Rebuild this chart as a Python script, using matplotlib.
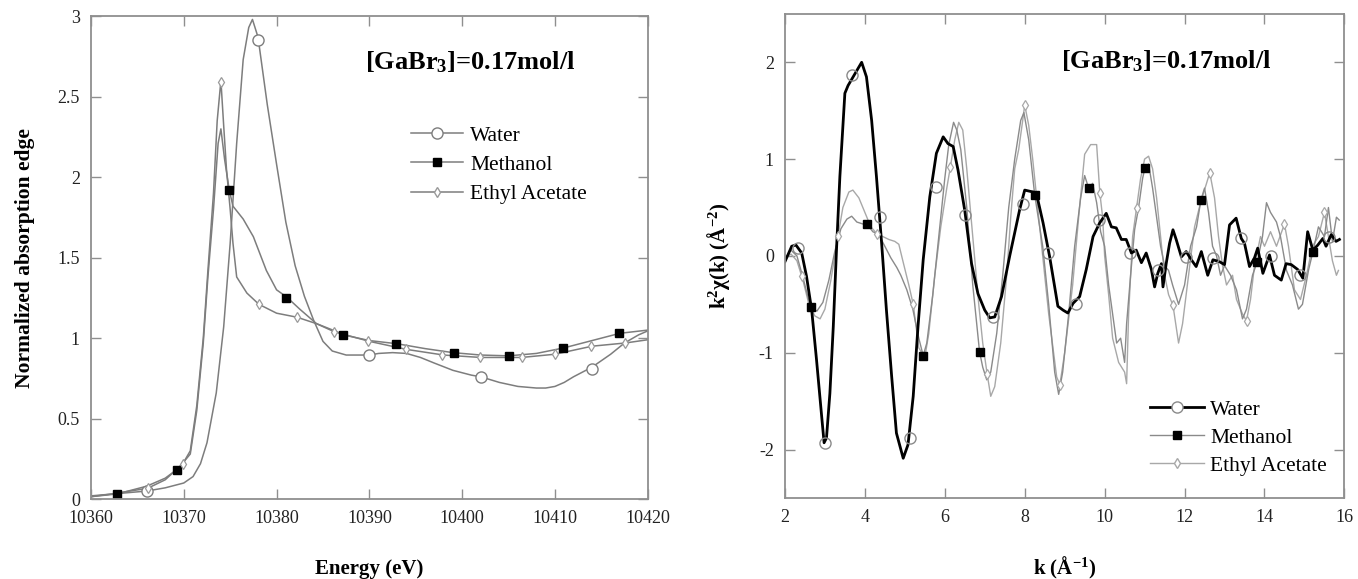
import matplotlib
matplotlib.use("Agg")
from matplotlib import pyplot as plt
from matplotlib.lines import Line2D
from matplotlib.ticker import FuncFormatter

plt.rcParams['font.family'] = ['Liberation Serif', 'DejaVu Serif']
plt.rcParams['axes.unicode_minus'] = False
plt.rcParams['mathtext.fontset'] = 'custom'
plt.rcParams['mathtext.rm'] = 'Liberation Serif:bold'
plt.rcParams['mathtext.bf'] = 'Liberation Serif:bold'
plt.rcParams['mathtext.it'] = 'Liberation Serif:bold'

# ---- XANES (left) ----
water_e = [10360, 10363, 10366, 10368, 10370, 10371, 10371.8, 10372.5, 10373.5, 10374.3,
           10375, 10375.7, 10376.4, 10377, 10377.4, 10378, 10379, 10380, 10381, 10382,
           10383, 10384, 10385, 10386, 10387.5, 10389, 10390, 10391, 10392.5, 10394,
           10395.5, 10397, 10399, 10401, 10402, 10404, 10406, 10408, 10409, 10410,
           10411, 10412, 10414, 10416, 10417.5, 10419, 10420]
water_mu = [0.02, 0.035, 0.05, 0.07, 0.10, 0.14, 0.22, 0.35, 0.66, 1.07,
            1.59, 2.21, 2.73, 2.93, 2.98, 2.87, 2.45, 2.08, 1.72, 1.45,
            1.26, 1.11, 0.98, 0.92, 0.895, 0.895, 0.895, 0.905, 0.91, 0.905,
            0.88, 0.845, 0.80, 0.77, 0.76, 0.725, 0.70, 0.69, 0.69, 0.70,
            0.725, 0.76, 0.82, 0.90, 0.97, 1.02, 1.045]
water_mk_e = [10366, 10378, 10390, 10402, 10414]
water_mk_mu = [0.05, 2.85, 0.895, 0.76, 0.81]

meth_e = [10360, 10362.8, 10366, 10368, 10369.4, 10370.7, 10371.4, 10372.1, 10372.6, 10373.2,
          10373.7, 10374.0, 10374.4, 10374.9, 10375.3, 10376.4, 10377.5, 10378.9, 10380, 10381.1,
          10382.5, 10384.3, 10386.5, 10387.2, 10390, 10393, 10396, 10399, 10402, 10405,
          10408, 10411, 10414, 10417, 10420]
meth_mu = [0.015, 0.032, 0.08, 0.13, 0.19, 0.28, 0.55, 0.97, 1.38, 1.80,
           2.21, 2.30, 2.11, 1.92, 1.82, 1.74, 1.63, 1.42, 1.30, 1.255,
           1.18, 1.09, 1.04, 1.02, 0.985, 0.965, 0.935, 0.91, 0.895, 0.89,
           0.905, 0.94, 0.985, 1.03, 1.05]
meth_mk_e = [10362.8, 10369.3, 10374.9, 10381.0, 10387.2, 10392.9, 10399.1, 10405.1, 10410.9, 10416.9]
meth_mk_mu = [0.032, 0.18, 1.92, 1.25, 1.02, 0.965, 0.91, 0.89, 0.94, 1.03]

ethyl_e = [10360, 10362, 10366.1, 10368, 10369.9, 10370.7, 10371.4, 10372.1, 10372.6, 10373.2,
           10373.6, 10374.0, 10374.3, 10374.6, 10375.0, 10375.3, 10375.7, 10376.8, 10378.1, 10380,
           10382.2, 10384.3, 10386.2, 10390, 10394, 10398, 10402, 10406.4, 10410, 10414,
           10417.6, 10420]
ethyl_mu = [0.015, 0.03, 0.067, 0.12, 0.22, 0.30, 0.58, 1.0, 1.42, 1.9,
            2.35, 2.60, 2.32, 2.05, 1.80, 1.59, 1.38, 1.28, 1.21, 1.155,
            1.13, 1.09, 1.04, 0.98, 0.93, 0.895, 0.88, 0.88, 0.90, 0.95,
            0.97, 0.99]
ethyl_mk_e = [10366.1, 10369.9, 10374.0, 10378.1, 10382.2, 10386.2, 10389.8, 10393.9,
              10397.8, 10401.9, 10406.4, 10410, 10413.9, 10417.6]
ethyl_mk_mu = [0.067, 0.22, 2.59, 1.21, 1.13, 1.04, 0.98, 0.93, 0.895, 0.88, 0.88, 0.90, 0.95, 0.97]

# ---- EXAFS (right) ----
w_k = [2.0, 2.17, 2.275, 2.42, 2.54, 2.67, 2.79, 2.92, 2.98, 3.04, 3.125, 3.21, 3.29, 3.375,
       3.5, 3.58, 3.75, 3.92, 4.04, 4.17, 4.29, 4.42, 4.54, 4.67, 4.79, 4.96, 5.08, 5.21,
       5.33, 5.46, 5.625, 5.79, 5.96, 6.08, 6.21, 6.33, 6.5, 6.67, 6.83, 7.0, 7.125, 7.25,
       7.42, 7.625, 7.875, 8.0, 8.21, 8.29, 8.46, 8.625, 8.75, 8.83, 8.96, 9.08, 9.21,
       9.375, 9.54, 9.71, 9.875, 10.04, 10.17, 10.29, 10.42, 10.54, 10.67, 10.79, 10.92,
       11.04, 11.17, 11.25, 11.33, 11.42, 11.46, 11.54, 11.625, 11.71, 11.79, 11.92, 12.04,
       12.17, 12.29, 12.42, 12.58, 12.71, 12.875, 13.0, 13.125, 13.29, 13.42, 13.5, 13.625,
       13.75, 13.83, 13.96, 14.125, 14.25, 14.42, 14.54, 14.67, 14.83, 14.96, 15.08, 15.21,
       15.33, 15.46, 15.54, 15.67, 15.79, 15.875]
w_chi = [-0.06, 0.10, 0.113, 0.03, -0.21, -0.56, -1.07, -1.66, -1.93, -1.88, -1.42, -0.73, 0.06, 0.82,
         1.68, 1.76, 1.88, 2.0, 1.85, 1.40, 0.82, 0.13, -0.56, -1.24, -1.83, -2.09, -1.95, -1.45,
         -0.73, -0.04, 0.61, 1.06, 1.23, 1.16, 1.13, 0.89, 0.47, -0.08, -0.39, -0.56, -0.64, -0.63,
         -0.42, 0.0, 0.48, 0.68, 0.66, 0.65, 0.34, -0.01, -0.32, -0.52, -0.56, -0.59, -0.49,
         -0.42, -0.14, 0.20, 0.34, 0.44, 0.30, 0.29, 0.17, 0.17, 0.03, 0.06, -0.07,
         0.03, -0.14, -0.32, -0.18, -0.08, -0.32, -0.08, 0.13, 0.27, 0.17, -0.01, 0.045,
         -0.04, -0.11, 0.045, -0.20, -0.04, -0.06, -0.09, 0.32, 0.39, 0.18, 0.13, -0.11,
         -0.02, 0.08, -0.18, 0.01, -0.20, -0.25, -0.08, -0.09, -0.14, -0.23, 0.25, 0.06,
         0.11, 0.18, 0.10, 0.22, 0.15, 0.17]
w_mk_k = [2.33, 3.0, 3.67, 4.37, 5.12, 5.79, 6.5, 7.21, 7.96, 8.58, 9.28, 9.87, 10.63,
          11.33, 12.03, 12.71, 13.42, 14.17, 14.9, 15.62]
w_mk_chi = [0.08, -1.93, 1.87, 0.40, -1.88, 0.71, 0.42, -0.63, 0.54, 0.03, -0.5, 0.37, 0.03,
            -0.15, -0.01, -0.02, 0.18, 0.0, -0.2, 0.2]

m_k = [2.0, 2.15, 2.3, 2.45, 2.64, 2.8, 2.95, 3.1, 3.25, 3.4, 3.55, 3.67, 3.8, 3.95, 4.05,
       4.2, 4.35, 4.5, 4.65, 4.8, 4.9, 5.05, 5.2, 5.35, 5.46, 5.55, 5.7, 5.85, 6.0, 6.1,
       6.22, 6.3, 6.4, 6.55, 6.7, 6.87, 6.95, 7.05, 7.15, 7.3, 7.45, 7.6, 7.75, 7.9, 7.98,
       8.1, 8.25, 8.45, 8.6, 8.75, 8.85, 8.95, 9.1, 9.25, 9.4, 9.5, 9.6, 9.7, 9.8, 9.9,
       10.0, 10.1, 10.2, 10.3, 10.4, 10.5, 10.55, 10.65, 10.75, 10.85, 10.95, 11.01, 11.1,
       11.2, 11.3, 11.4, 11.5, 11.6, 11.7, 11.85, 12.0, 12.15, 12.3, 12.41, 12.5, 12.6,
       12.7, 12.8, 12.9, 13.0, 13.15, 13.3, 13.45, 13.55, 13.7, 13.82, 13.95, 14.05, 14.15,
       14.3, 14.4, 14.55, 14.7, 14.85, 14.95, 15.1, 15.21, 15.35, 15.5, 15.6, 15.7, 15.8,
       15.87]
m_chi = [-0.03, 0.06, 0.0, -0.22, -0.53, -0.57, -0.48, -0.25, 0.05, 0.28, 0.38, 0.41, 0.35, 0.33, 0.33,
         0.25, 0.22, 0.10, -0.02, -0.12, -0.2, -0.35, -0.55, -0.85, -1.03, -0.9, -0.4, 0.2, 0.8, 1.15,
         1.38, 1.3, 1.1, 0.5, -0.3, -0.99, -1.15, -1.28, -1.2, -0.8, -0.2, 0.5, 1.0, 1.4, 1.48,
         1.2, 0.63, 0.1, -0.5, -1.2, -1.43, -1.2, -0.6, 0.1, 0.6, 0.83, 0.70, 0.75, 0.55, 0.25,
         0.1, -0.3, -0.6, -0.9, -0.85, -1.1, -0.7, -0.2, 0.27, 0.5, 0.8, 0.91, 0.95,
         0.7, 0.4, 0.1, -0.1, -0.15, -0.3, -0.5, -0.3, 0.1, 0.3, 0.58, 0.7, 0.45,
         0.1, 0.0, -0.2, -0.1, -0.2, -0.35, -0.65, -0.55, -0.2, -0.06, 0.2, 0.55, 0.45,
         0.35, 0.2, -0.15, -0.3, -0.55, -0.5, -0.15, 0.04, 0.3, 0.2, 0.5, 0.15, 0.4,
         0.37]
m_mk_k = [2.64, 4.05, 5.46, 6.87, 8.25, 9.6, 11.01, 12.41, 13.82, 15.21]
m_mk_chi = [-0.53, 0.33, -1.03, -0.99, 0.63, 0.70, 0.91, 0.58, -0.06, 0.04]

e_k = [2.0, 2.15, 2.3, 2.45, 2.6, 2.75, 2.88, 3.0, 3.15, 3.33, 3.45, 3.6, 3.7, 3.85, 4.0,
       4.15, 4.3, 4.45, 4.6, 4.75, 4.85, 4.95, 5.1, 5.21, 5.35, 5.5, 5.6, 5.75, 5.9, 6.05,
       6.14, 6.25, 6.35, 6.45, 6.55, 6.7, 6.85, 6.95, 7.06, 7.15, 7.25, 7.4, 7.55, 7.65,
       7.75, 7.85, 7.95, 8.0, 8.1, 8.2, 8.4, 8.6, 8.8, 8.88, 9.0, 9.2, 9.35, 9.5, 9.65,
       9.8, 9.88, 9.95, 10.0, 10.1, 10.2, 10.35, 10.5, 10.55, 10.6, 10.7, 10.8, 10.9, 11.0,
       11.1, 11.2, 11.3, 11.4, 11.5, 11.6, 11.71, 11.85, 11.95, 12.1, 12.25, 12.4, 12.55,
       12.63, 12.75, 12.85, 12.95, 13.05, 13.2, 13.3, 13.45, 13.55, 13.65, 13.75, 13.9,
       14.0, 14.15, 14.3, 14.5, 14.6, 14.75, 14.9, 15.05, 15.2, 15.35, 15.5, 15.6, 15.7,
       15.8, 15.85]
e_chi = [-0.03, 0.02, -0.05, -0.25, -0.5, -0.62, -0.65, -0.55, -0.25, 0.21, 0.5, 0.66, 0.68, 0.6, 0.45,
         0.3, 0.23, 0.2, 0.17, 0.15, 0.12, -0.05, -0.3, -0.5, -0.95, -1.05, -0.8, -0.2, 0.3, 0.7,
         0.92, 1.2, 1.38, 1.3, 0.9, 0.2, -0.5, -0.9, -1.22, -1.45, -1.35, -0.9, -0.2, 0.4,
         0.9, 1.1, 1.4, 1.56, 1.35, 1.0, 0.2, -0.6, -1.25, -1.33, -1.0, -0.3, 0.4, 1.05, 1.15,
         1.15, 0.65, 0.4, 0.0, -0.4, -0.85, -1.1, -1.2, -1.32, -0.6, 0.2, 0.5, 0.8, 1.0,
         1.03, 0.9, 0.6, 0.2, -0.2, -0.4, -0.51, -0.9, -0.7, -0.2, 0.3, 0.55, 0.75,
         0.86, 0.6, 0.2, -0.1, -0.3, -0.2, -0.45, -0.6, -0.67, -0.45, -0.1, 0.2,
         0.1, 0.25, 0.1, 0.33, 0.1, -0.35, -0.45, -0.2, 0.1, 0.2, 0.45, 0.2, -0.05,
         -0.2, -0.15]
e_mk_k = [2.42, 3.33, 4.3, 5.21, 6.14, 7.06, 8.0, 8.88, 9.88, 10.8, 11.71, 12.63, 13.55, 14.5, 15.5]
e_mk_chi = [-0.21, 0.21, 0.23, -0.5, 0.92, -1.22, 1.56, -1.33, 0.65, 0.5, -0.51, 0.86, -0.67, 0.33, 0.45]

labels = ['Water', 'Methanol', 'Ethyl Acetate']

fig = plt.figure(figsize=(13.58, 5.79), dpi=100)
ax1 = fig.add_axes([0.067, 0.138, 0.410, 0.834])
ax2 = fig.add_axes([0.578, 0.140, 0.412, 0.836])

frame = '#8f8f8f'
for ax in (ax1, ax2):
    for s in ax.spines.values():
        s.set_color(frame)
        s.set_linewidth(1.3)
    ax.tick_params(direction='in', top=True, right=True, length=7, width=1,
                   color=frame, labelsize=13, pad=8, labelcolor='#222222')

# left panel
g = '#7d7d7d'
ax1.plot(water_e, water_mu, color=g, lw=1.1)
ax1.plot(meth_e, meth_mu, color=g, lw=1.1)
ax1.plot(ethyl_e, ethyl_mu, color=g, lw=1.1)
ax1.plot(water_mk_e, water_mk_mu, 'o', ms=8, mfc='white', mec=g, mew=1.0)
ax1.plot(meth_mk_e, meth_mk_mu, 's', ms=6, mfc='black', mec='black')
ax1.plot(ethyl_mk_e, ethyl_mk_mu, 'd', ms=5, mfc='white', mec='#9a9a9a', mew=0.9)
ax1.set_xlim(10360, 10420)
ax1.set_ylim(0, 3)
ax1.set_xticks(range(10360, 10421, 10))
ax1.set_yticks([0, 0.5, 1, 1.5, 2, 2.5, 3])
ax1.yaxis.set_major_formatter(FuncFormatter(lambda v, p: '%g' % v))
ax1.set_xlabel('Energy (eV)', fontsize=15, fontweight='bold', labelpad=23)
ax1.set_ylabel('Normalized absorption edge', fontsize=15.5, fontweight='bold', labelpad=16)
ax1.text(0.493, 0.905, '[GaBr$_3$]=0.17mol/l', transform=ax1.transAxes,
         fontsize=19, fontweight='bold', va='center', ha='left')
h1 = [Line2D([], [], color=g, lw=1.1, marker='o', ms=8, mfc='white', mec=g),
      Line2D([], [], color=g, lw=1.1, marker='s', ms=6, mfc='black', mec='black'),
      Line2D([], [], color=g, lw=1.1, marker='d', ms=5, mfc='white', mec='#9a9a9a')]
ax1.legend(h1, labels, loc='upper left', bbox_to_anchor=(0.575, 0.773), frameon=False,
           fontsize=15.5, handlelength=2.4, handletextpad=0.35, labelspacing=0.42,
           borderpad=0, borderaxespad=0, numpoints=1)

# right panel
mc = '#8a8a8a'
ec = '#a8a8a8'
ax2.plot(e_k, e_chi, color=ec, lw=1.0)
ax2.plot(m_k, m_chi, color=mc, lw=1.0)
ax2.plot(w_k, w_chi, color='black', lw=2.0)
ax2.plot(w_mk_k, w_mk_chi, 'o', ms=8, mfc='none', mec='#8a8a8a', mew=1.0)
ax2.plot(m_mk_k, m_mk_chi, 's', ms=6, mfc='black', mec='black')
ax2.plot(e_mk_k, e_mk_chi, 'd', ms=5, mfc='white', mec=ec, mew=0.9)
ax2.set_xlim(2, 16)
ax2.set_ylim(-2.5, 2.5)
ax2.set_xticks(range(2, 17, 2))
ax2.set_yticks([-2, -1, 0, 1, 2])
ax2.set_xlabel('k (Å$^{-1}$)', fontsize=15, fontweight='bold', labelpad=21)
ax2.set_ylabel('k$^2$χ(k) (Å$^{-2}$)', fontsize=15, fontweight='bold', labelpad=19)
ax2.text(0.494, 0.903, '[GaBr$_3$]=0.17mol/l', transform=ax2.transAxes,
         fontsize=19, fontweight='bold', va='center', ha='left')
h2 = [Line2D([], [], color='black', lw=2.0, marker='o', ms=8, mfc='white', mec='#8a8a8a'),
      Line2D([], [], color=mc, lw=1.0, marker='s', ms=6, mfc='black', mec='black'),
      Line2D([], [], color=ec, lw=1.0, marker='d', ms=5, mfc='white', mec=ec)]
ax2.legend(h2, labels, loc='upper left', bbox_to_anchor=(0.652, 0.203), frameon=False,
           fontsize=15.5, handlelength=2.5, handletextpad=0.3, labelspacing=0.37,
           borderpad=0, borderaxespad=0, numpoints=1)

fig.savefig('out.png', dpi=100)
